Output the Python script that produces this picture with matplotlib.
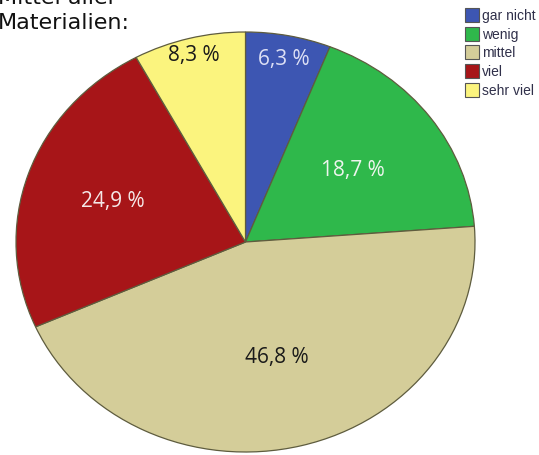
import matplotlib
matplotlib.use("Agg")
import matplotlib.pyplot as plt
import numpy as np

categories = ["gar nicht", "wenig", "mittel", "viel", "sehr viel"]
shares = [6.3, 18.7, 46.8, 24.9, 8.3]
colors = ["#3d56b2", "#2fb84b", "#d4cd99", "#a71518", "#fbf47e"]
label_colors = ["#dde0f5", "#eef5ee", "#1a1a1a", "#f5e8e8", "#1a1a1a"]
label_radius = [0.89, 0.58, 0.56, 0.61, 0.92]

W, H = 539, 456
fig = plt.figure(figsize=(W / 100, H / 100), dpi=100)
fig.patch.set_facecolor("white")

# pie area in pixel coordinates (slightly wider than tall)
left, right, top, bottom = 16, 475, 33, 453
ax = fig.add_axes([left / W, (H - bottom) / H, (right - left) / W, (bottom - top) / H])

wedges, _ = ax.pie(
    shares,
    colors=colors,
    startangle=90,
    counterclock=False,
    radius=1.0,
    wedgeprops=dict(edgecolor="#5e5c3e", linewidth=0.9),
)
ax.set_aspect("auto")
ax.set_xlim(-1, 1)
ax.set_ylim(-1, 1)
ax.axis("off")

for w, v, c, r in zip(wedges, shares, label_colors, label_radius):
    mid = np.deg2rad((w.theta1 + w.theta2) / 2)
    ax.text(r * np.cos(mid), r * np.sin(mid), f"{v:.1f} %".replace(".", ","),
            ha="center", va="center", fontsize=15, color=c, family="Open Sans")

# heading, its first line runs off the top edge
fig.text(-2 / W, 1 - 4 / H, "Mittel aller", ha="left", va="baseline",
         fontsize=16, family="DejaVu Sans", color="#111111")
fig.text(-2 / W, 1 - 29 / H, "Materialien:", ha="left", va="baseline",
         fontsize=16, family="DejaVu Sans", color="#111111")

# legend in the top right corner
y0, dy = 16, 18.7
for i, (name, col) in enumerate(zip(categories, colors)):
    yc = y0 + i * dy
    fig.patches.append(plt.Rectangle((465 / W, 1 - (yc + 7) / H), 14 / W, 14 / H,
                                     transform=fig.transFigure, facecolor=col,
                                     edgecolor="#555555", linewidth=0.8))
    fig.text(482 / W, 1 - yc / H, name, ha="left", va="center", fontsize=10,
             family="Liberation Sans", color="#30304a")

fig.savefig("out.png", dpi=100)
